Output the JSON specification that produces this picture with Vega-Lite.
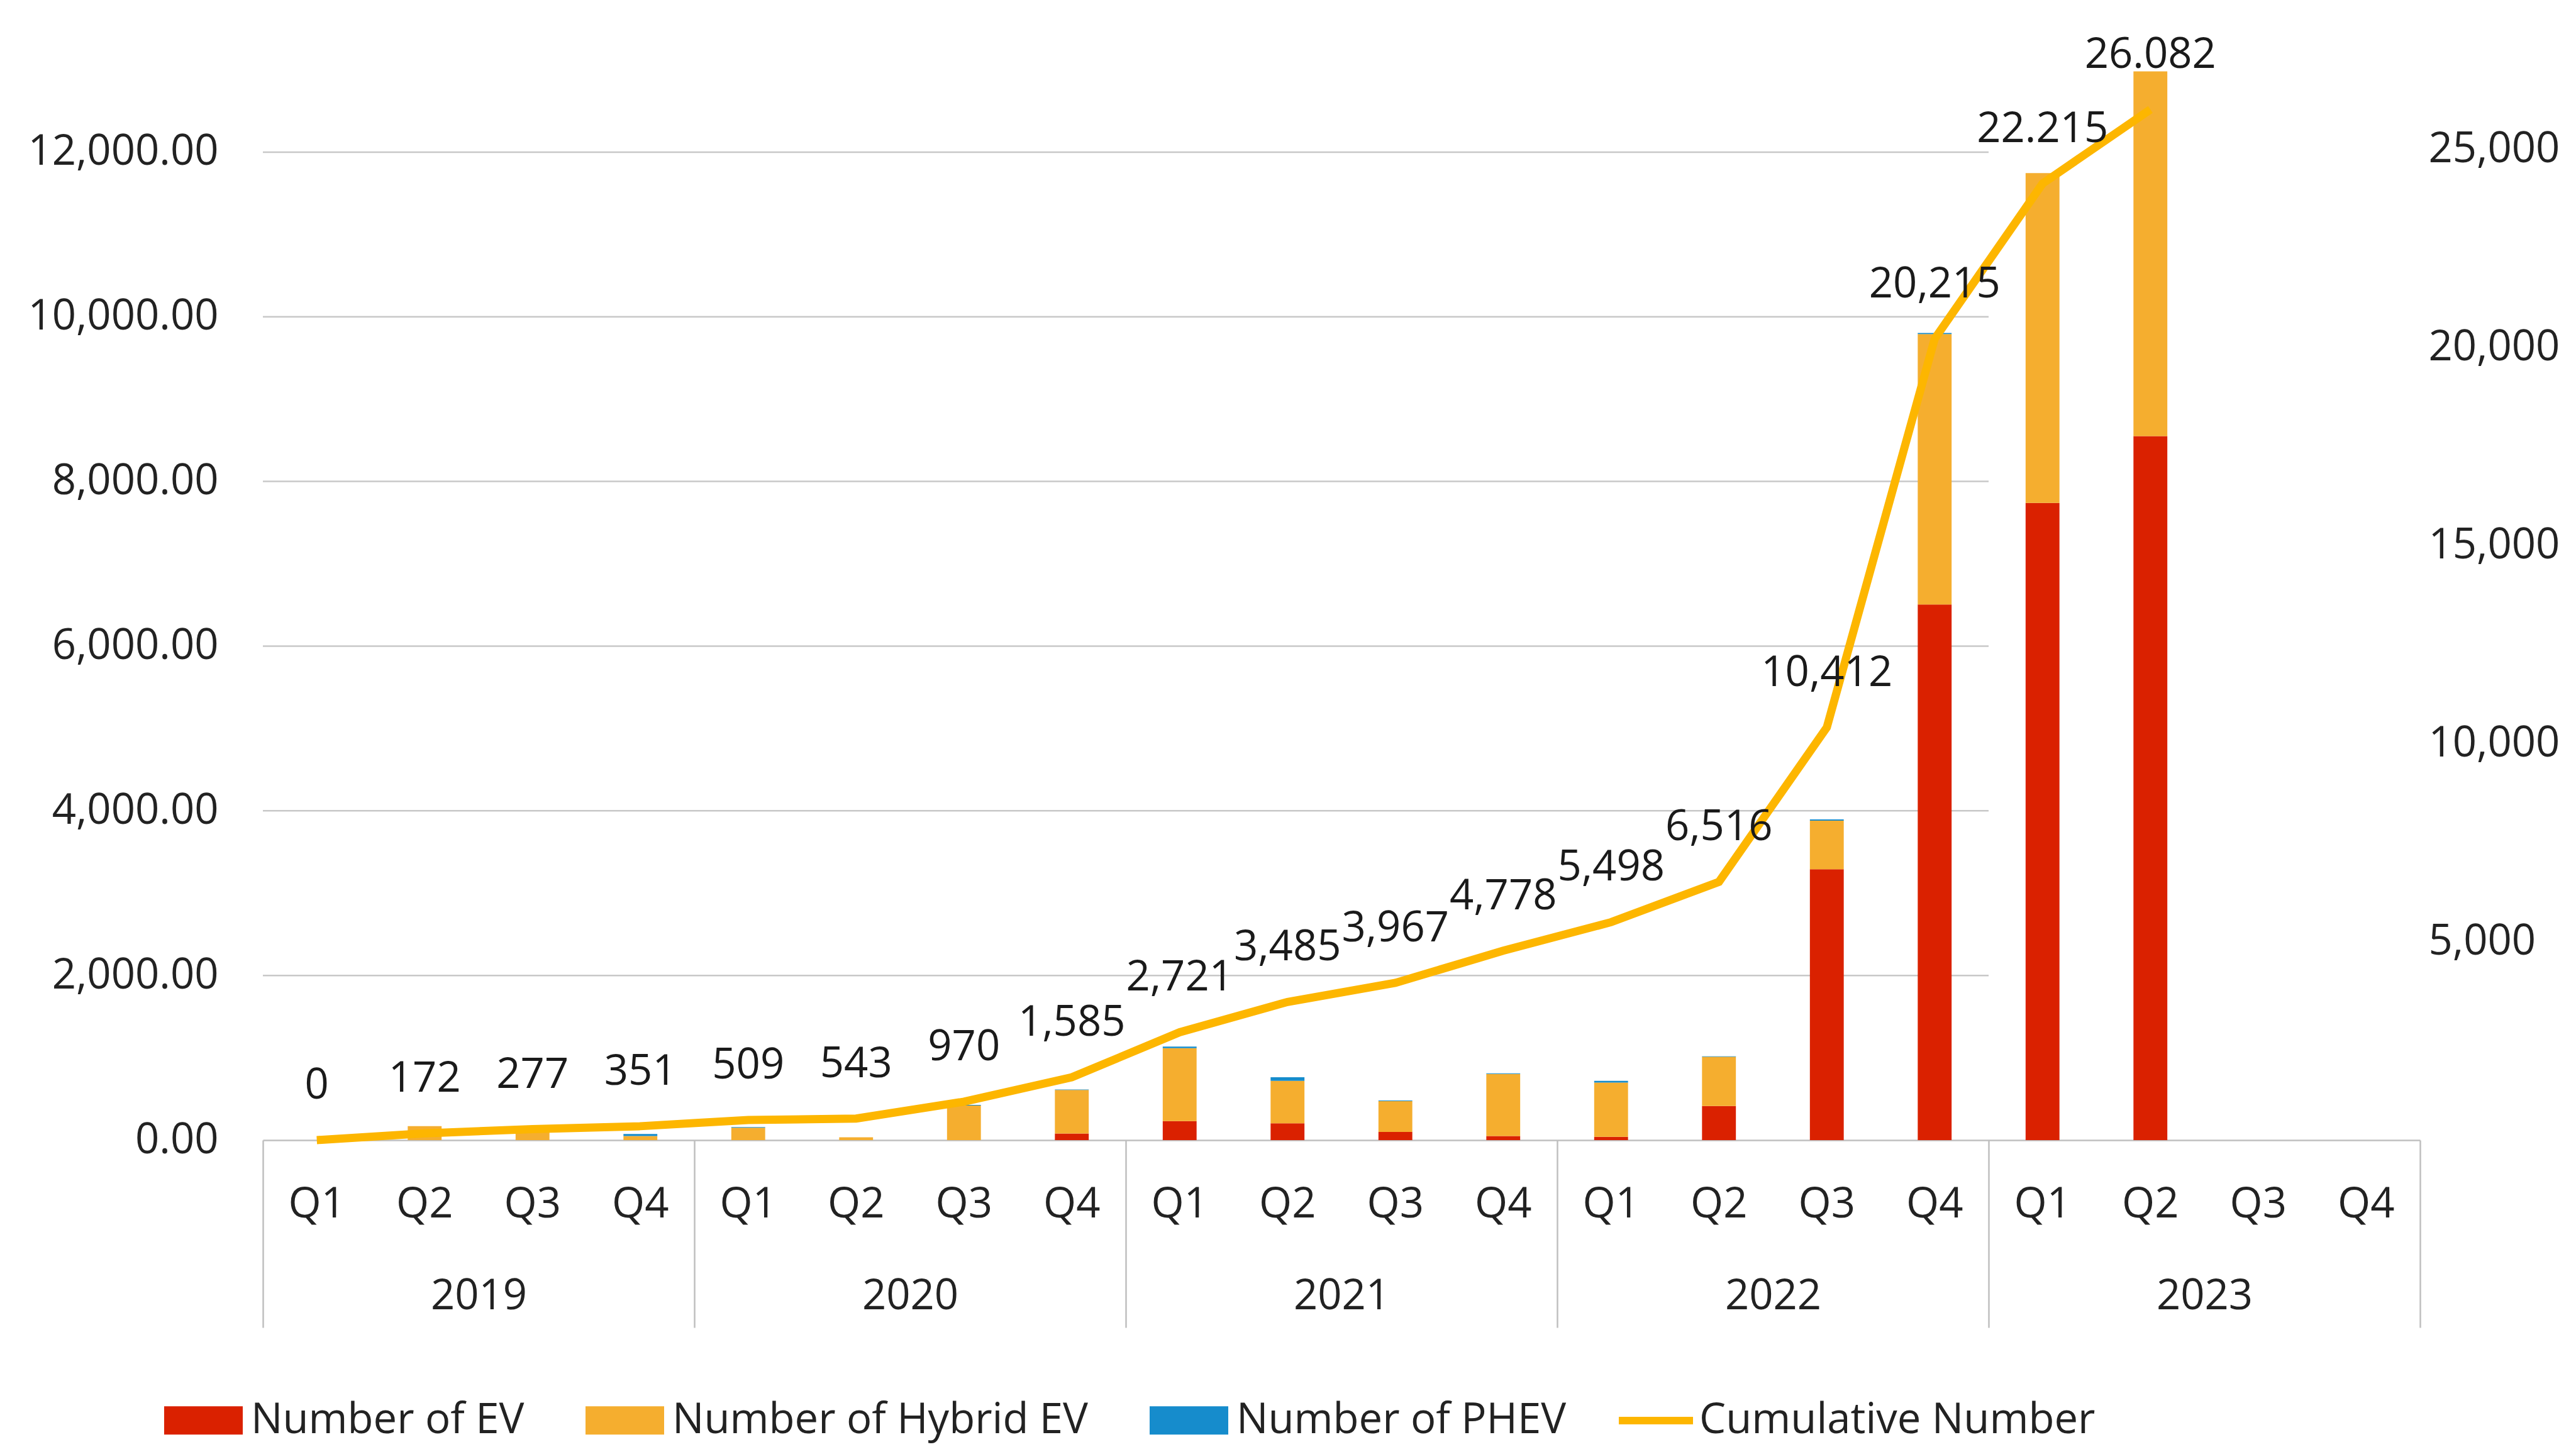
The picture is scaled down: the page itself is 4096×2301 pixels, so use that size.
{
  "$schema": "https://vega.github.io/schema/vega-lite/v6.json",
  "width": 3430,
  "height": 1702,
  "autosize": {"type": "none"},
  "padding": {"left": 418, "top": 111, "right": 248, "bottom": 488},
  "background": "white",
  "config": {
    "view": {"stroke": null},
    "font": "Open Sans",
    "axis": {"labelFont": "Open Sans", "labelFontSize": 67, "labelColor": "#222222", "title": null, "labelLimit": 2000},
    "legend": {"labelFont": "Open Sans", "labelFontSize": 67, "labelColor": "#222222"}
  },
  "datasets": {
    "gridlines": [
      {"level": 2000}, {"level": 4000}, {"level": 6000},
      {"level": 8000}, {"level": 10000}, {"level": 12000}
    ],
    "bars": [
      {"quarter": "2019 Q2", "series": "Number of Hybrid EV", "count": 170},
      {"quarter": "2019 Q3", "series": "Number of Hybrid EV", "count": 105},
      {"quarter": "2019 Q4", "series": "Number of Hybrid EV", "count": 49},
      {"quarter": "2019 Q4", "series": "Number of PHEV", "count": 25},
      {"quarter": "2020 Q1", "series": "Number of Hybrid EV", "count": 150},
      {"quarter": "2020 Q1", "series": "Number of PHEV", "count": 8},
      {"quarter": "2020 Q2", "series": "Number of Hybrid EV", "count": 34},
      {"quarter": "2020 Q3", "series": "Number of Hybrid EV", "count": 421},
      {"quarter": "2020 Q3", "series": "Number of PHEV", "count": 6},
      {"quarter": "2020 Q4", "series": "Number of EV", "count": 80},
      {"quarter": "2020 Q4", "series": "Number of Hybrid EV", "count": 530},
      {"quarter": "2020 Q4", "series": "Number of PHEV", "count": 5},
      {"quarter": "2021 Q1", "series": "Number of EV", "count": 232},
      {"quarter": "2021 Q1", "series": "Number of Hybrid EV", "count": 885},
      {"quarter": "2021 Q1", "series": "Number of PHEV", "count": 19},
      {"quarter": "2021 Q2", "series": "Number of EV", "count": 205},
      {"quarter": "2021 Q2", "series": "Number of Hybrid EV", "count": 515},
      {"quarter": "2021 Q2", "series": "Number of PHEV", "count": 44},
      {"quarter": "2021 Q3", "series": "Number of EV", "count": 100},
      {"quarter": "2021 Q3", "series": "Number of Hybrid EV", "count": 374},
      {"quarter": "2021 Q3", "series": "Number of PHEV", "count": 8},
      {"quarter": "2021 Q4", "series": "Number of EV", "count": 50},
      {"quarter": "2021 Q4", "series": "Number of Hybrid EV", "count": 754},
      {"quarter": "2021 Q4", "series": "Number of PHEV", "count": 7},
      {"quarter": "2022 Q1", "series": "Number of EV", "count": 40},
      {"quarter": "2022 Q1", "series": "Number of Hybrid EV", "count": 658},
      {"quarter": "2022 Q1", "series": "Number of PHEV", "count": 22},
      {"quarter": "2022 Q2", "series": "Number of EV", "count": 415},
      {"quarter": "2022 Q2", "series": "Number of Hybrid EV", "count": 598},
      {"quarter": "2022 Q2", "series": "Number of PHEV", "count": 5},
      {"quarter": "2022 Q3", "series": "Number of EV", "count": 3290},
      {"quarter": "2022 Q3", "series": "Number of Hybrid EV", "count": 590},
      {"quarter": "2022 Q3", "series": "Number of PHEV", "count": 16},
      {"quarter": "2022 Q4", "series": "Number of EV", "count": 6505},
      {"quarter": "2022 Q4", "series": "Number of Hybrid EV", "count": 3285},
      {"quarter": "2022 Q4", "series": "Number of PHEV", "count": 13},
      {"quarter": "2023 Q1", "series": "Number of EV", "count": 7740},
      {"quarter": "2023 Q1", "series": "Number of Hybrid EV", "count": 4005},
      {"quarter": "2023 Q2", "series": "Number of EV", "count": 8550},
      {"quarter": "2023 Q2", "series": "Number of Hybrid EV", "count": 4430}
    ],
    "cumulative": [
      {"quarter": "2019 Q1", "total": 0, "label": "0"},
      {"quarter": "2019 Q2", "total": 172, "label": "172"},
      {"quarter": "2019 Q3", "total": 277, "label": "277"},
      {"quarter": "2019 Q4", "total": 351, "label": "351"},
      {"quarter": "2020 Q1", "total": 509, "label": "509"},
      {"quarter": "2020 Q2", "total": 543, "label": "543"},
      {"quarter": "2020 Q3", "total": 970, "label": "970"},
      {"quarter": "2020 Q4", "total": 1585, "label": "1,585"},
      {"quarter": "2021 Q1", "total": 2721, "label": "2,721"},
      {"quarter": "2021 Q2", "total": 3485, "label": "3,485"},
      {"quarter": "2021 Q3", "total": 3967, "label": "3,967"},
      {"quarter": "2021 Q4", "total": 4778, "label": "4,778"},
      {"quarter": "2022 Q1", "total": 5498, "label": "5,498"},
      {"quarter": "2022 Q2", "total": 6516, "label": "6,516"},
      {"quarter": "2022 Q3", "total": 10412, "label": "10,412"},
      {"quarter": "2022 Q4", "total": 20215, "label": "20,215"},
      {"quarter": "2023 Q1", "total": 24130, "label": "22.215"},
      {"quarter": "2023 Q2", "total": 26000, "label": "26.082"}
    ]
  },
  "layer": [
    {
      "data": {"name": "gridlines"},
      "mark": {"type": "rule", "color": "#C8C8C8", "strokeWidth": 2.5},
      "encoding": {
        "y": {"field": "level", "type": "quantitative", "scale": {"domain": [0, 13000], "nice": false, "zero": true}, "axis": null},
        "x": {
          "datum": 0, "type": "quantitative",
          "scale": {"domain": [0, 20], "nice": false, "zero": false},
          "axis": {
            "orient": "bottom", "values": [0, 2, 4, 6, 8, 10, 12, 14, 16, 18, 20],
            "domain": false, "grid": false, "ticks": true, "tickSize": 298,
            "tickColor": "#BFBFBF", "tickWidth": 2.5,
            "tickOpacity": {"condition": {"test": "datum.value % 4 === 0", "value": 1}, "value": 0},
            "labelExpr": "datum.value === 2 ? '2019' : datum.value === 6 ? '2020' : datum.value === 10 ? '2021' : datum.value === 14 ? '2022' : datum.value === 18 ? '2023' : ''",
            "labelPadding": -50, "labelBaseline": "middle", "labelAlign": "center",
            "labelOverlap": false, "labelFlush": false, "labelBound": false
          }
        },
        "x2": {"datum": 16}
      }
    },
    {
      "data": {"name": "bars"},
      "mark": {"type": "bar"},
      "encoding": {
        "x": {
          "field": "quarter", "type": "nominal", "sort": null,
          "scale": {
            "domain": ["2019 Q1","2019 Q2","2019 Q3","2019 Q4","2020 Q1","2020 Q2","2020 Q3","2020 Q4","2021 Q1","2021 Q2","2021 Q3","2021 Q4","2022 Q1","2022 Q2","2022 Q3","2022 Q4","2023 Q1","2023 Q2","2023 Q3","2023 Q4"],
            "paddingInner": 0.686, "paddingOuter": 0.343
          },
          "axis": {
            "orient": "bottom", "domain": true, "domainColor": "#BFBFBF", "domainWidth": 2.5,
            "ticks": false, "tickSize": 0, "grid": false, "labelAngle": 0,
            "labelExpr": "substring(datum.value, 5)",
            "labelPadding": 102, "labelBaseline": "middle"
          }
        },
        "y": {
          "field": "count", "type": "quantitative", "stack": "zero",
          "scale": {"domain": [0, 13000], "nice": false},
          "axis": {
            "orient": "left", "values": [0, 2000, 4000, 6000, 8000, 10000, 12000],
            "format": ",.2f", "domain": false, "ticks": false, "tickSize": 0, "grid": false,
            "labelPadding": 71
          }
        },
        "order": {"field": "series", "type": "nominal", "sort": "ascending"},
        "fill": {
          "field": "series", "type": "nominal",
          "scale": {"domain": ["Number of EV", "Number of Hybrid EV", "Number of PHEV"], "range": ["#DA2100", "#F5AE2F", "#168CCC"]},
          "legend": {
            "orient": "none", "legendX": -157, "legendY": 2085, "direction": "horizontal",
            "title": null, "symbolType": "M-1,-0.36L1,-0.36L1,0.36L-1,0.36Z", "symbolSize": 15625,
            "symbolStrokeWidth": 0, "labelOffset": 13, "columnPadding": 97, "labelLimit": 2000
          }
        }
      }
    },
    {
      "data": {"name": "cumulative"},
      "mark": {"type": "line", "strokeWidth": 13},
      "encoding": {
        "x": {
          "field": "quarter", "type": "nominal", "sort": null,
          "scale": {
            "domain": ["2019 Q1","2019 Q2","2019 Q3","2019 Q4","2020 Q1","2020 Q2","2020 Q3","2020 Q4","2021 Q1","2021 Q2","2021 Q3","2021 Q4","2022 Q1","2022 Q2","2022 Q3","2022 Q4","2023 Q1","2023 Q2","2023 Q3","2023 Q4"],
            "paddingInner": 0.686, "paddingOuter": 0.343
          },
          "axis": null
        },
        "y": {
          "field": "total", "type": "quantitative",
          "scale": {"domain": [0, 27000], "nice": false},
          "axis": {
            "orient": "right", "values": [5000, 10000, 15000, 20000, 25000],
            "format": ",.0f", "domain": false, "ticks": false, "tickSize": 0, "grid": false,
            "labelPadding": 13
          }
        },
        "stroke": {
          "datum": "Cumulative Number", "type": "nominal",
          "scale": {"domain": ["Cumulative Number"], "range": ["#FDB600"]},
          "legend": {
            "orient": "none", "legendX": 2150, "legendY": 2083, "title": null,
            "symbolType": "stroke", "symbolSize": 13924, "symbolStrokeWidth": 12,
            "labelOffset": 4, "labelLimit": 2000
          }
        }
      }
    },
    {
      "data": {"name": "cumulative"},
      "mark": {"type": "text", "dy": -86, "fontSize": 67, "font": "Open Sans", "color": "#1a1a1a", "baseline": "middle", "align": "center"},
      "encoding": {
        "x": {
          "field": "quarter", "type": "nominal", "sort": null,
          "scale": {
            "domain": ["2019 Q1","2019 Q2","2019 Q3","2019 Q4","2020 Q1","2020 Q2","2020 Q3","2020 Q4","2021 Q1","2021 Q2","2021 Q3","2021 Q4","2022 Q1","2022 Q2","2022 Q3","2022 Q4","2023 Q1","2023 Q2","2023 Q3","2023 Q4"],
            "paddingInner": 0.686, "paddingOuter": 0.343
          },
          "axis": null
        },
        "y": {"field": "total", "type": "quantitative", "scale": {"domain": [0, 27000], "nice": false}, "axis": null},
        "text": {"field": "label", "type": "nominal"}
      }
    }
  ],
  "resolve": {"scale": {"x": "independent", "y": "independent"}}
}
